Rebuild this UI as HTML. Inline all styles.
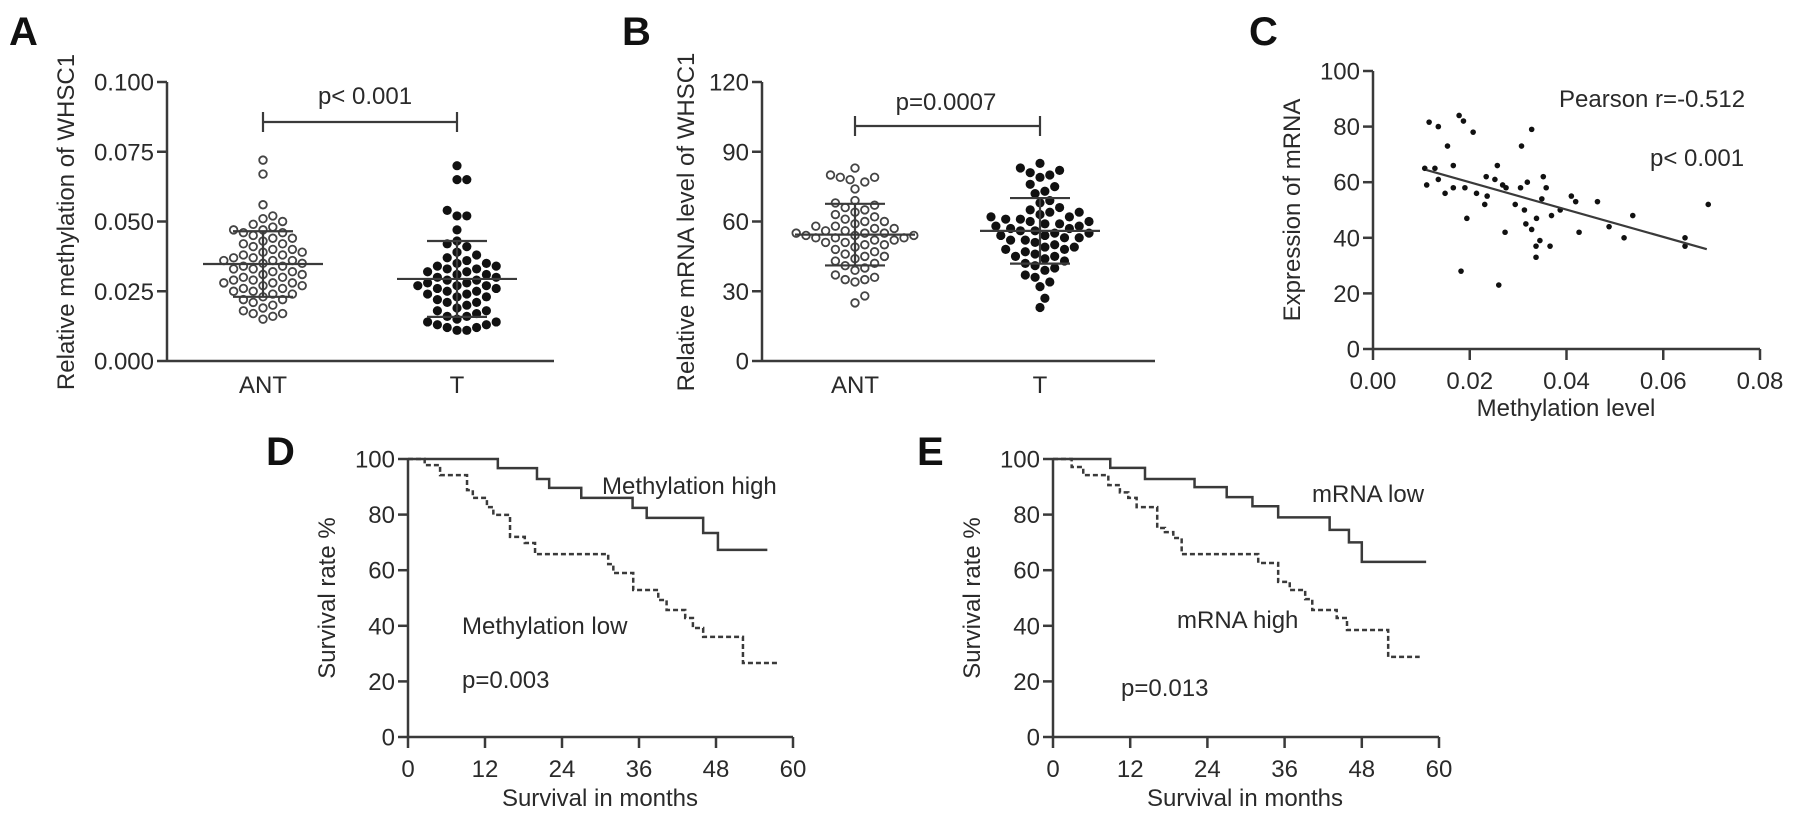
<!DOCTYPE html>
<html><head><meta charset="utf-8"><style>
html,body{margin:0;padding:0;background:#fff;}
svg{display:block;font-family:"Liberation Sans",Arial,sans-serif;}
</style></head><body>
<svg id="fig" width="1795" height="820" viewBox="0 0 1795 820" xmlns="http://www.w3.org/2000/svg"></svg>
<script>
// ---------- DATA ----------
const aAntValues = [0.072,0.067,0.056,0.052,0.051,0.050,0.049,0.048,0.047,0.047,0.046,0.046,0.045,0.044,0.044,0.043,0.042,0.042,0.041,0.040,0.040,0.039,0.039,0.038,0.038,0.037,0.037,0.036,0.036,0.036,0.035,0.035,0.034,0.034,0.033,0.033,0.032,0.032,0.031,0.031,0.030,0.030,0.029,0.029,0.028,0.028,0.028,0.027,0.027,0.026,0.026,0.025,0.025,0.024,0.024,0.023,0.022,0.022,0.021,0.020,0.019,0.018,0.017,0.017,0.016,0.015];
const aTValues = [0.070,0.065,0.065,0.054,0.052,0.052,0.047,0.043,0.042,0.041,0.039,0.038,0.037,0.036,0.035,0.035,0.034,0.034,0.033,0.033,0.032,0.032,0.031,0.031,0.030,0.030,0.029,0.029,0.028,0.028,0.027,0.027,0.027,0.026,0.026,0.025,0.025,0.024,0.024,0.023,0.023,0.022,0.021,0.021,0.020,0.019,0.018,0.018,0.017,0.016,0.016,0.015,0.014,0.014,0.013,0.013,0.012,0.012,0.011,0.011];
const bAntValues = [83,80,79,79,78,77,74,69,68,67,66,65,64,63,62,61,60,60,59,58,58,57,57,56,56,55,55,55,54,54,54,53,53,53,52,52,51,51,50,50,49,48,47,46,45,45,44,43,42,41,40,39,37,36,35,35,34,28,25];
const bTValues = [85,83,82,81,80,79,76,75,73,72,69,68,66,65,64,64,63,62,62,61,61,60,60,59,59,58,58,57,57,56,56,55,55,54,54,53,53,52,52,51,50,49,49,48,48,47,46,45,45,44,43,42,41,40,39,37,36,34,32,27,23];
const cMethylation = [0.0116,0.0135,0.0107,0.0128,0.0111,0.0135,0.0154,0.0149,0.0166,0.0166,0.0178,0.0187,0.0207,0.019,0.0194,0.0182,0.0214,0.0234,0.0231,0.0236,0.0252,0.0257,0.0268,0.0275,0.026,0.0273,0.0294,0.0307,0.0305,0.0319,0.0313,0.0328,0.0316,0.0328,0.0338,0.0345,0.0337,0.0337,0.0352,0.0358,0.0349,0.0366,0.0369,0.0387,0.041,0.0419,0.0426,0.0464,0.0488,0.0519,0.0537,0.0645,0.0645,0.0693];
const cExpression = [81.6,80,65,65,59,61,73,56,66,58,84,82,78,58,47,28,56,62,52,55,61,66,59,58,23,42,52,73,58,60,50,79,45,43,47,39,37,33,62,58,54,37,48,50,55,53,42,53,44,40,48,40,37,52];
const cFitX = [0.011,0.069];
const cFitY = [64.4,35.9];
const dHighTimes = [0,14,20.1,22,27,35,37.2,46,48.3];
const dHighSurv = [100,96.7,92.8,89.6,86,82.4,78.8,73.4,67.3];
const dHighEnd = 56;
const dLowTimes = [0,2.6,5,9.2,10.1,12.3,13.3,15.9,18.2,19.8,31.2,32,35.1,39,40.3,43.2,44.4,46,52.2];
const dLowSurv = [100,97.8,94.2,88.8,86,82.7,79.9,72,69.8,65.8,62.2,59,52.9,49.3,45.7,42.8,39.2,36,26.6];
const dLowEnd = 57.8;
const eLowTimes = [0,8.9,14.3,22,27,31,35,43,46,48];
const eLowSurv = [100,96.8,92.8,89.9,86.3,83,79,74.5,70,63];
const eLowEnd = 58;
const eHighTimes = [0,2.9,4.7,8.6,10.4,11.7,13,16.2,17.4,18.7,20,31.9,35,36.8,39.2,40.3,44.1,45.7,52.1];
const eHighSurv = [100,97.1,94.2,90.6,88,86,82.7,75.2,73.7,71.6,65.8,62.6,55.8,52.9,49.6,45.7,42.8,38.5,28.8];
const eHighEnd = 57;
const aTicks = ["0.000","0.025","0.050","0.075","0.100"];
const bTicks = ["0","30","60","90","120"];
const cYTicks = ["0","20","40","60","80","100"];
const cXTicks = ["0.00","0.02","0.04","0.06","0.08"];
const kmYTicks = ["0","20","40","60","80","100"];
const kmXTicks = ["0","12","24","36","48","60"];
const groupLabels = ["ANT","T"];

// ---------- HELPERS ----------
const NS = "http://www.w3.org/2000/svg";
const svg = document.getElementById('fig');
const INK = "#3a3a3a";
function el(tag, attrs, name, parent) {
  const e = document.createElementNS(NS, tag);
  for (const k in attrs) e.setAttribute(k, attrs[k]);
  
  
  (parent || svg).appendChild(e);
  return e;
}
function txt(x, y, s, size, name, opts) {
  opts = opts || {};
  const t = el('text', {x:x, y:y, 'font-size':size, fill: opts.fill || "#2a2a2a", 'text-anchor': opts.anchor || 'start', 'font-weight': opts.weight || 'normal'}, name);
  if (opts.rot) t.setAttribute('transform', 'rotate(-90 ' + x + ' ' + y + ')');
  t.textContent = s;
  return t;
}
function line(x1,y1,x2,y2,name,w,dash){
  const l = el('line',{x1:x1,y1:y1,x2:x2,y2:y2,stroke:INK,'stroke-width':w||2.5},name);
  if (dash) l.setAttribute('stroke-dasharray', dash);
  return l;
}
function lin(d0,d1,r0,r1){ return v => r0 + (v-d0)/(d1-d0)*(r1-r0); }

function yAxis(x, scale, ticks, vals, prefix){
  line(x, scale(vals[0]), x, scale(vals[vals.length-1]), prefix+'-y-axis');
  ticks.forEach((t,i)=>{
    const y = scale(vals[i]);
    line(x-10, y, x, y, prefix+'-y-tick');
    txt(x-13, y+8.5, t, 24, prefix+'-y-tick-label', {anchor:'end'});
  });
}
function xAxis(y, scale, ticks, vals, prefix, x0, x1){
  line(x0, y, x1, y, prefix+'-x-axis');
  ticks.forEach((t,i)=>{
    const x = scale(vals[i]);
    line(x, y, x, y+11, prefix+'-x-tick');
    txt(x, y+40, t, 24, prefix+'-x-tick-label', {anchor:'middle'});
  });
}

function swarm(vals, ys, cx, r, filled, prefix){
  const sorted = vals.slice().sort((a,b)=>a-b);
  const placed = [];
  const step = 2*r + 0.6;
  const inc = step*0.5;
  sorted.forEach(v=>{
    const y = ys(v);
    let k = 0, x = cx;
    while (true) {
      const off = (k===0)?0:(k%2? Math.ceil(k/2): -Math.ceil(k/2))*inc;
      x = cx + off;
      if (!placed.some(p => Math.hypot(p[0]-x,p[1]-y) < step)) break;
      k++;
    }
    placed.push([x,y]);
    el('circle',{cx:x, cy:y, r: filled? r : r-0.8, fill: filled? "#111":"#fff", stroke: filled? "none": "#444", 'stroke-width':1.8}, prefix+'-point');
  });
  const m = vals.reduce((a,b)=>a+b,0)/vals.length;
  const sd = Math.sqrt(vals.reduce((a,b)=>a+(b-m)*(b-m),0)/(vals.length-1));
  line(cx-60, ys(m), cx+60, ys(m), prefix+'-mean-line', 2.2);
  line(cx-30, ys(m+sd), cx+30, ys(m+sd), prefix+'-sd-cap-upper', 2.2);
  line(cx-30, ys(m-sd), cx+30, ys(m-sd), prefix+'-sd-cap-lower', 2.2);
  line(cx, ys(m+sd), cx, ys(m-sd), prefix+'-sd-line', 2.2);
}

function km(times, surv, end, xs, ys, name, dash){
  let d = 'M' + xs(times[0]) + ' ' + ys(surv[0]);
  for (let i=1;i<times.length;i++){
    d += ' H' + xs(times[i]) + ' V' + ys(surv[i]);
  }
  d += ' H' + xs(end);
  const p = el('path',{d:d, fill:'none', stroke:INK, 'stroke-width': 2.5}, name);
  if (dash) p.setAttribute('stroke-dasharray', dash);
}

// ---------- PANEL A ----------
txt(9, 45, "A", 40, 'panel-label-a', {weight:'bold', fill:'#111'});
const aY = lin(0, 0.1, 361, 82);
yAxis(167, aY, aTicks, [0,0.025,0.05,0.075,0.1], 'panel-a');
line(167, 361, 554, 361, 'panel-a-x-axis');
const aX = [263, 457];
groupLabels.forEach((g,i)=>txt(aX[i], 393, g, 24, 'panel-a-category-label', {anchor:'middle'}));
txt(74, 222, "Relative methylation of WHSC1", 24, 'panel-a-y-axis-title', {anchor:'middle', rot:true});
swarm(aAntValues, aY, aX[0], 4.6, false, 'panel-a-ant');
swarm(aTValues, aY, aX[1], 4.6, true, 'panel-a-t');
line(aX[0], 122, aX[1], 122, 'panel-a-significance-bracket', 2.2);
line(aX[0], 112, aX[0], 132, 'panel-a-bracket-end', 2.2);
line(aX[1], 112, aX[1], 132, 'panel-a-bracket-end', 2.2);
txt(365, 104, "p< 0.001", 24, 'panel-a-p-value', {anchor:'middle'});

// ---------- PANEL B ----------
txt(622, 45, "B", 40, 'panel-label-b', {weight:'bold', fill:'#111'});
const bY = lin(0, 120, 361, 82);
yAxis(762, bY, bTicks, [0,30,60,90,120], 'panel-b');
line(762, 361, 1155, 361, 'panel-b-x-axis');
const bX = [855, 1040];
groupLabels.forEach((g,i)=>txt(bX[i], 393, g, 24, 'panel-b-category-label', {anchor:'middle'}));
txt(694, 222, "Relative mRNA level of WHSC1", 24, 'panel-b-y-axis-title', {anchor:'middle', rot:true});
swarm(bAntValues, bY, bX[0], 4.6, false, 'panel-b-ant');
swarm(bTValues, bY, bX[1], 4.6, true, 'panel-b-t');
line(bX[0], 126, bX[1], 126, 'panel-b-significance-bracket', 2.2);
line(bX[0], 116, bX[0], 136, 'panel-b-bracket-end', 2.2);
line(bX[1], 116, bX[1], 136, 'panel-b-bracket-end', 2.2);
txt(946, 110, "p=0.0007", 24, 'panel-b-p-value', {anchor:'middle'});

// ---------- PANEL C ----------
txt(1249, 45, "C", 40, 'panel-label-c', {weight:'bold', fill:'#111'});
const cX = lin(0, 0.08, 1373, 1760);
const cY = lin(0, 100, 349, 71);
yAxis(1373, cY, cYTicks, [0,20,40,60,80,100], 'panel-c');
xAxis(349, cX, cXTicks, [0,0.02,0.04,0.06,0.08], 'panel-c', 1373, 1760);
txt(1300, 210, "Expression of mRNA", 24, 'panel-c-y-axis-title', {anchor:'middle', rot:true});
txt(1566, 416, "Methylation level", 24, 'panel-c-x-axis-title', {anchor:'middle'});
cMethylation.forEach((v,i)=>{
  el('circle',{cx:cX(v), cy:cY(cExpression[i]), r:2.8, fill:'#111'}, 'panel-c-point');
});
line(cX(cFitX[0]), cY(cFitY[0]), cX(cFitX[1]), cY(cFitY[1]), 'panel-c-regression-line', 2.2);
txt(1559, 107, "Pearson r=-0.512", 24, 'panel-c-pearson-r');
txt(1650, 166, "p< 0.001", 24, 'panel-c-p-value');

// ---------- PANEL D ----------
txt(266, 465, "D", 40, 'panel-label-d', {weight:'bold', fill:'#111'});
const dX = lin(0, 60, 408, 793);
const dY = lin(0, 100, 737, 459);
yAxis(408, dY, kmYTicks, [0,20,40,60,80,100], 'panel-d');
xAxis(737, dX, kmXTicks, [0,12,24,36,48,60], 'panel-d', 408, 793);
txt(335, 598, "Survival rate %", 24, 'panel-d-y-axis-title', {anchor:'middle', rot:true});
txt(600, 806, "Survival in months", 24, 'panel-d-x-axis-title', {anchor:'middle'});
km(dHighTimes, dHighSurv, dHighEnd, dX, dY, 'panel-d-methylation-high-curve');
km(dLowTimes, dLowSurv, dLowEnd, dX, dY, 'panel-d-methylation-low-curve', '5 3');
txt(602, 494, "Methylation high", 24, 'panel-d-label-high');
txt(462, 634, "Methylation low", 24, 'panel-d-label-low');
txt(462, 688, "p=0.003", 24, 'panel-d-p-value');

// ---------- PANEL E ----------
txt(917, 465, "E", 40, 'panel-label-e', {weight:'bold', fill:'#111'});
const eX = lin(0, 60, 1053, 1439);
const eY = lin(0, 100, 737, 459);
yAxis(1053, eY, kmYTicks, [0,20,40,60,80,100], 'panel-e');
xAxis(737, eX, kmXTicks, [0,12,24,36,48,60], 'panel-e', 1053, 1439);
txt(980, 598, "Survival rate %", 24, 'panel-e-y-axis-title', {anchor:'middle', rot:true});
txt(1245, 806, "Survival in months", 24, 'panel-e-x-axis-title', {anchor:'middle'});
km(eLowTimes, eLowSurv, eLowEnd, eX, eY, 'panel-e-mrna-low-curve');
km(eHighTimes, eHighSurv, eHighEnd, eX, eY, 'panel-e-mrna-high-curve', '5 3');
txt(1312, 502, "mRNA low", 24, 'panel-e-label-low');
txt(1177, 628, "mRNA high", 24, 'panel-e-label-high');
txt(1121, 696, "p=0.013", 24, 'panel-e-p-value');
</script>
</body></html>
